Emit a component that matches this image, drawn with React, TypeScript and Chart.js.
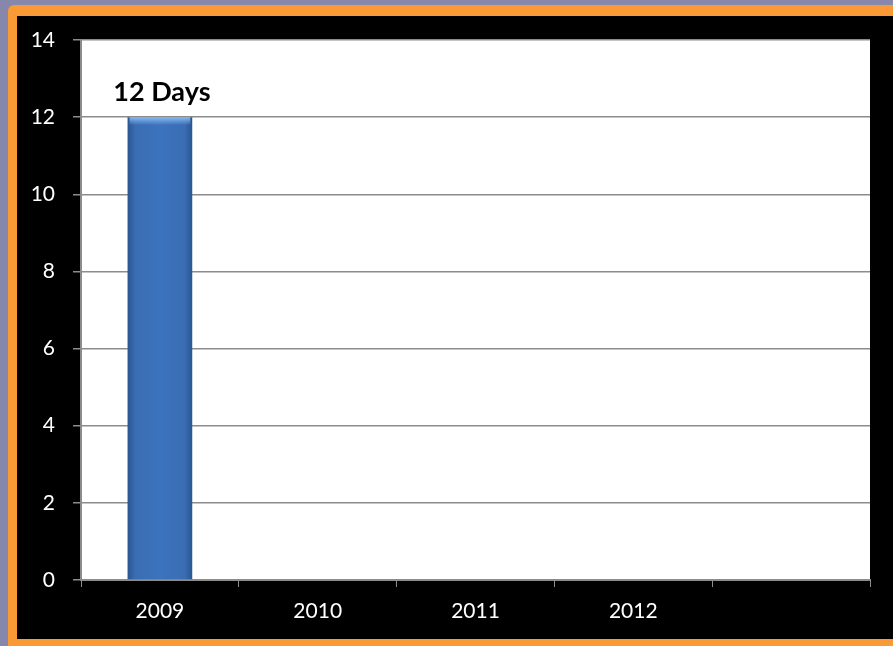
import React, { useEffect, useRef } from "react";
import { Chart, registerables } from "chart.js";

Chart.register(...registerables);

const categories = ["2009", "2010", "2011", "2012", ""];
const daysValues = [12, null, null, null, null];
const barLabels = ["12 Days", "", "", "", ""];
const yTicks = [0, 2, 4, 6, 8, 10, 12, 14];

const FONT = "Lato, 'Open Sans', sans-serif";
const BAR_PCT = 0.41;

const plotBgPlugin = {
  id: "plotBg",
  beforeDraw(chart: any) {
    const { ctx, chartArea } = chart;
    if (!chartArea) return;
    ctx.save();
    ctx.fillStyle = "#ffffff";
    ctx.fillRect(chartArea.left, chartArea.top, chartArea.right - chartArea.left, chartArea.bottom - chartArea.top);
    ctx.restore();
  },
};

const labelPlugin = {
  id: "barLabels",
  afterDatasetsDraw(chart: any) {
    const { ctx } = chart;
    const meta = chart.getDatasetMeta(0);
    meta.data.forEach((el: any, i: number) => {
      const v = daysValues[i];
      if (v == null) return;
      const { x, y, width } = el.getProps(["x", "y", "width"], true);
      ctx.save();
      const g = ctx.createLinearGradient(0, y, 0, y + 8);
      g.addColorStop(0, "rgba(140,190,245,0.95)");
      g.addColorStop(1, "rgba(140,190,245,0)");
      ctx.fillStyle = g;
      ctx.fillRect(x - width / 2 + 2, y, width - 4, 8);
      ctx.restore();
      const txt = barLabels[i];
      if (!txt) return;
      ctx.save();
      ctx.font = `bold 27px ${FONT}`;
      ctx.fillStyle = "#000";
      ctx.textAlign = "center";
      ctx.textBaseline = "alphabetic";
      ctx.fillText(txt, x + 2, y - 16);
      ctx.restore();
    });
  },
};

export default function App() {
  const ref = useRef<HTMLCanvasElement>(null);
  useEffect(() => {
    if (!ref.current) return;
    const chart = new Chart(ref.current, {
      type: "bar",
      data: {
        labels: categories,
        datasets: [
          {
            label: "Days",
            data: daysValues as any,
            backgroundColor: (c: any) => {
              const ch = c.chart;
              const xs = ch.scales && ch.scales.x;
              if (!xs || !ch.chartArea || c.dataIndex == null) return "#3a70b9";
              const cx = xs.getPixelForValue(c.dataIndex);
              const w = (ch.chartArea.width / categories.length) * BAR_PCT;
              const g = ch.ctx.createLinearGradient(cx - w / 2, 0, cx + w / 2, 0);
              g.addColorStop(0, "#2a5591");
              g.addColorStop(0.12, "#3a6db3");
              g.addColorStop(0.5, "#3c73bd");
              g.addColorStop(0.88, "#3a6db3");
              g.addColorStop(1, "#2a5591");
              return g;
            },
            borderWidth: 0,
            categoryPercentage: 1,
            barPercentage: BAR_PCT,
          },
        ],
      },
      options: {
        animation: false,
        responsive: false,
        maintainAspectRatio: false,
        layout: { padding: { top: 24, right: 23, left: 0, bottom: 0 } },
        plugins: {
          legend: { display: false },
          tooltip: { enabled: false },
          title: { display: false },
        },
        scales: {
          x: {
            offset: true,
            afterFit: (s: any) => {
              s.height = 59;
              s.paddingLeft = 0;
              s.paddingRight = 0;
            },
            grid: {
              offset: true,
              drawOnChartArea: false,
              drawTicks: true,
              tickLength: 7,
              color: "#8c8c8c",
              lineWidth: 1,
            },
            border: { display: true, color: "#8c8c8c", width: 2 },
            ticks: {
              color: "#ffffff",
              font: { family: FONT, size: 21 },
              padding: 12,
              maxRotation: 0,
            },
          },
          y: {
            min: 0,
            max: 14,
            afterFit: (s: any) => {
              s.width = 64;
              s.paddingTop = 10;
              s.paddingBottom = 10;
            },
            afterBuildTicks: (s: any) => {
              s.ticks = yTicks.map((v) => ({ value: v }));
            },
            grid: {
              color: "#8c8c8c",
              lineWidth: 1.5,
              drawTicks: true,
              tickLength: 8,
            },
            border: { display: true, color: "#8c8c8c", width: 2 },
            ticks: {
              color: "#ffffff",
              font: { family: FONT, size: 21 },
              padding: 18,
              stepSize: 2,
            },
          },
        },
      },
      plugins: [plotBgPlugin, labelPlugin],
    });
    return () => chart.destroy();
  }, []);

  return (
    <div
      style={{
        position: "fixed",
        left: 0,
        top: 0,
        width: 893,
        height: 646,
        background: "#8787ab",
        overflow: "hidden",
      }}
    >
      <div
        style={{
          position: "absolute",
          left: 8,
          top: 5,
          width: 920,
          height: 680,
          background: "#f99a36",
          borderRadius: 6,
        }}
      />
      <div
        style={{
          position: "absolute",
          left: 17,
          top: 16,
          width: 876,
          height: 623,
          background: "#000",
        }}
      >
        <canvas
          ref={ref}
          width={876}
          height={623}
          style={{ display: "block", width: 876, height: 623 }}
        />
      </div>
    </div>
  );
}
